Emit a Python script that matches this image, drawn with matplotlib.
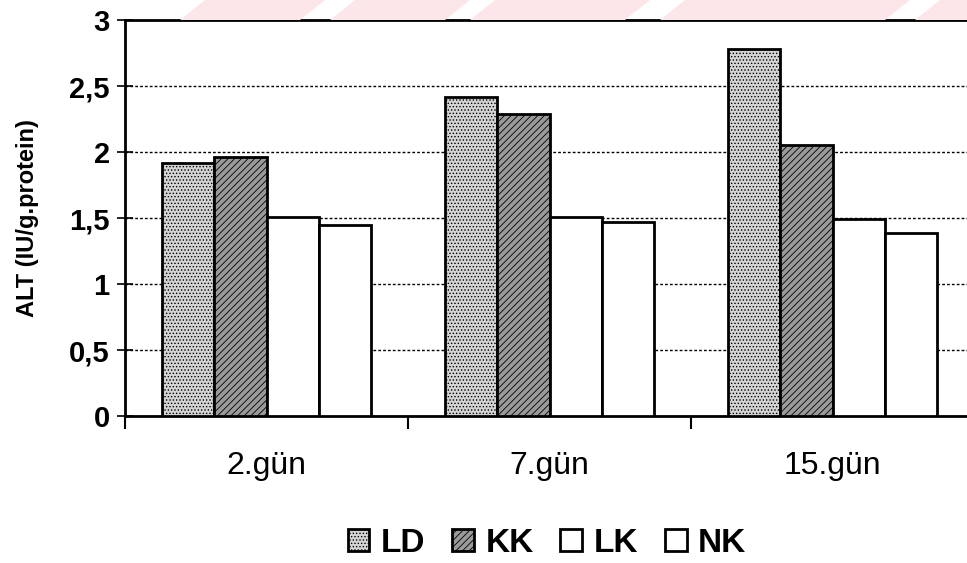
import matplotlib.pyplot as plt
import matplotlib as mpl
from matplotlib.patches import Polygon
import numpy as np

# data
days = ["2.gün", "7.gün", "15.gün"]
groups = ["LD", "KK", "LK", "NK"]
ld = [1.92, 2.42, 2.78]
kk = [1.96, 2.29, 2.05]
lk = [1.51, 1.51, 1.49]
nk = [1.45, 1.47, 1.39]
yticks = [0, 0.5, 1, 1.5, 2, 2.5, 3]
ytick_labels = ["0", "0,5", "1", "1,5", "2", "2,5", "3"]

plt.rcParams['font.family'] = ['Liberation Sans', 'DejaVu Sans']
plt.rcParams['hatch.linewidth'] = 0.6

fig = plt.figure(figsize=(9.67, 5.63), dpi=100)

# faint pink watermark stripes at the very top
stripes = [(180, 300), (330, 445), (470, 625), (660, 885), (915, 990)]
H = 563.0
for x0, x1 in stripes:
    pts = [(x0 / 967, 1 - 20 / H), (x1 / 967, 1 - 20 / H),
           ((x1 + 25) / 967, 1.0), ((x0 + 25) / 967, 1.0)]
    fig.patches.append(Polygon(pts, closed=True, transform=fig.transFigure,
                               facecolor="#fde6e9", edgecolor="none", zorder=0))

ax = fig.add_axes([125 / 967, 147 / H, 849 / 967, 396 / H])
ax.set_facecolor("none")

x = np.arange(len(days))
w = 0.184
styles = [
    dict(facecolor="#d4d4d4", hatch="....."),
    dict(facecolor="#9a9a9a", hatch="/////"),
    dict(facecolor="white", hatch=None),
    dict(facecolor="white", hatch=None),
]
series = [ld, kk, lk, nk]
handles = []
for i, (vals, st) in enumerate(zip(series, styles)):
    b = ax.bar(x + (i - 1.5) * w, vals, w, edgecolor="black", linewidth=2,
               zorder=3, label=groups[i], **st)
    handles.append(b)

ax.set_xlim(-0.5, 2.5)
ax.set_ylim(0, 3)
ax.set_yticks(yticks)
ax.set_yticklabels(ytick_labels, fontsize=21, fontweight="bold")
ax.yaxis.grid(True, linestyle=(0, (2, 1.5)), color="black", linewidth=1, zorder=1)
ax.set_axisbelow(True)

ax.set_xticks([-0.5, 0.5, 1.5, 2.5])
ax.set_xticklabels([])
ax.set_xticks(x, minor=True)
ax.set_xticklabels(days, minor=True, fontsize=23)
ax.tick_params(axis="x", which="major", direction="out", length=9, width=1.5)
ax.tick_params(axis="x", which="minor", length=0, pad=25)
ax.tick_params(axis="y", direction="inout", length=12, width=1.2, pad=5)

for side in ["left", "bottom", "top"]:
    ax.spines[side].set_linewidth(2)
ax.spines["right"].set_visible(False)

ax.set_ylabel("ALT (IU/g.protein)", fontsize=17, fontweight="bold", labelpad=22)

fig.legend(handles=handles, labels=groups, loc="center", bbox_to_anchor=(547 / 967, 1 - 543 / H),
           ncol=4, frameon=False, handlelength=0.65, handleheight=0.65,
           handletextpad=0.35, columnspacing=0.8,
           prop=dict(family="Liberation Sans", size=24, weight="bold"))

fig.savefig("out.png", dpi=100)
